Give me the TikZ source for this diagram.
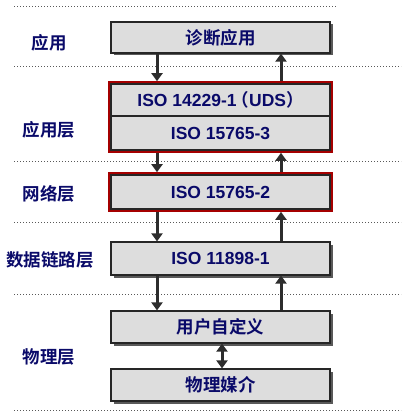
\documentclass[tikz,border=0pt]{standalone}
\usepackage{fontspec}
\setmainfont{Liberation Sans}
\newfontfamily\cjk{Noto Sans CJK SC}[BoldFont={Noto Sans CJK SC Bold}]
\usetikzlibrary{arrows.meta,positioning,shadows,fit}
\definecolor{textnavy}{RGB}{10, 10, 105}
\definecolor{boxgray}{RGB}{221, 221, 221}
\definecolor{framered}{RGB}{165, 0, 0}
\definecolor{arrowgray}{RGB}{45, 45, 45}
\tikzset{
 layerbox/.style={
 rectangle,
 draw=black!85,
 fill=boxgray,
 line width=1.2pt,
 minimum width=219pt,
 minimum height=32pt,
 inner sep=0pt,
 align=center,
 text=textnavy,
 font=\bfseries\fontsize{17.5}{20}\selectfont,
 drop shadow={shadow xshift=2.5pt, shadow yshift=-2.5pt, fill=black!65, opacity=1}
 },
 redframe/.style={
 rectangle,
 draw=framered,
 line width=1.4pt,
 inner sep=1.5pt
 },
 layerlabel/.style={
 text=textnavy,
 font=\cjk\bfseries\fontsize{17.5}{20}\selectfont
 },
 sepline/.style={draw=black!65, line width=1pt, dash pattern=on 1.2pt off 1.8pt},
 flowarrow/.style={-{Triangle[length=8pt,width=11pt]}, line width=3pt, draw=arrowgray},
 botharrow/.style={{Triangle[length=8pt,width=11pt]}-{Triangle[length=8pt,width=11pt]}, line width=3pt, draw=arrowgray}
}

\begin{document}
\begin{tikzpicture}[x=1pt,y=-1pt]
 \useasboundingbox (0,0) rectangle (401,414);

 % separators
 \draw[sepline] (14,7) -- (336,7);
 \draw[sepline] (14,67) -- (401,67);
 \draw[sepline] (14,161) -- (401,161);
 \draw[sepline] (14,222) -- (401,222);
 \draw[sepline] (14,294) -- (401,294);
 \draw[sepline] (14,410) -- (401,410);

 % layer names
 \node[layerlabel] (lblapp) at (49,43) {应用};
 \node[layerlabel] (lblappl) at (49,130) {应用层};
 \node[layerlabel] (lblnet) at (49,194) {网络层};
 \node[layerlabel] (lbldll) at (50,260) {数据链路层};
 \node[layerlabel] (lblphy) at (49,357) {物理层};

 % protocol boxes
 \node[layerbox, minimum height=31pt] (diag) at (220.5,37.5) {\cjk 诊断应用};
 \node[layerbox] (uds) at (220.5,100) {ISO 14229-1\kern-5pt{\cjk （}UDS{\cjk ）}};
 \node[layerbox, minimum height=34pt] (iso3) at (220.5,133) {ISO 15765-3};
 \node[layerbox, minimum height=34pt] (iso2) at (220.5,192) {ISO 15765-2};
 \node[layerbox, minimum height=33pt] (iso1) at (220.5,258.5) {ISO 11898-1};
 \node[layerbox] (user) at (220.5,327) {\cjk 用户自定义};
 \node[layerbox] (media) at (220.5,385) {\cjk 物理媒介};

 \node[redframe, fit=(uds)(iso3)] (appframe) {};
 \node[redframe, fit=(iso2)] (netframe) {};

 % data flow
 \draw[flowarrow] ([xshift=-63.5]diag.south) -- ([xshift=-63.5]appframe.north);
 \draw[flowarrow] ([xshift=60.5]appframe.north) -- ([xshift=60.5]diag.south);
 \draw[flowarrow] ([xshift=-63.5]appframe.south) -- ([xshift=-63.5]netframe.north);
 \draw[flowarrow] ([xshift=60.5]netframe.north) -- ([xshift=60.5]appframe.south);
 \draw[flowarrow] ([xshift=-63.5]netframe.south) -- ([xshift=-63.5]iso1.north);
 \draw[flowarrow] ([xshift=60.5]iso1.north) -- ([xshift=60.5]netframe.south);
 \draw[flowarrow] ([xshift=-63.5]iso1.south) -- ([xshift=-63.5]user.north);
 \draw[flowarrow] ([xshift=60.5]user.north) -- ([xshift=60.5]iso1.south);
 \draw[botharrow] ([xshift=1.5]user.south) -- ([xshift=1.5]media.north);
\end{tikzpicture}
\end{document}
